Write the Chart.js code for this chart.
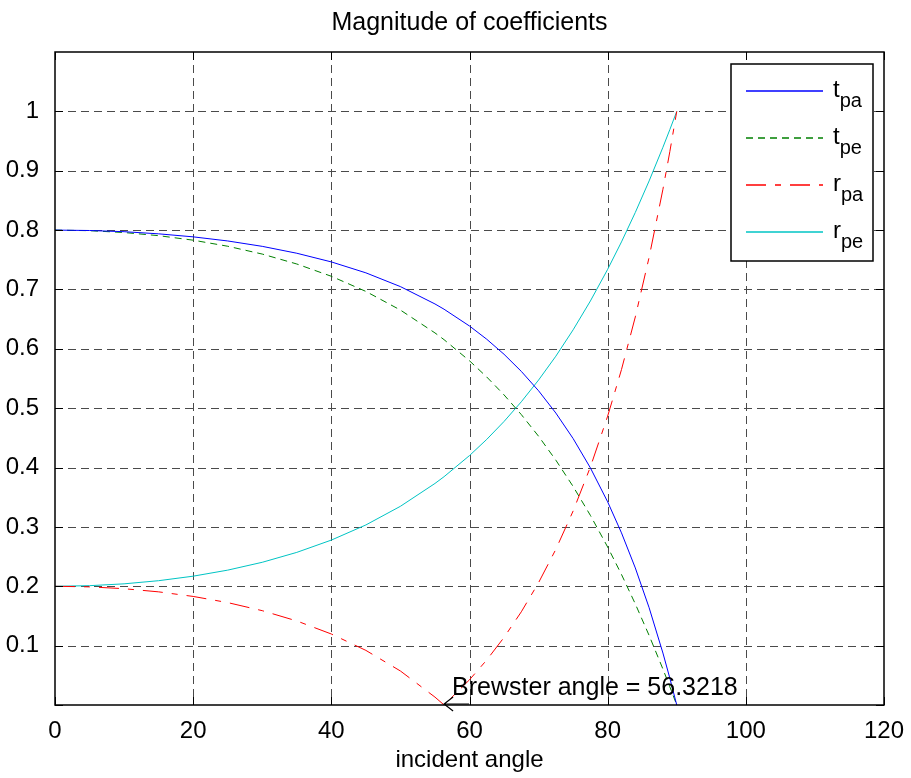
<!DOCTYPE html>
<html>
<head>
<meta charset="utf-8">
<title>Magnitude of coefficients</title>
<script src="https://cdn.jsdelivr.net/npm/chart.js@4/dist/chart.umd.min.js"></script>
<style>
  html, body { margin: 0; padding: 0; background: #fff; }
  canvas { display: block; }
</style>
</head>
<body>
<canvas id="coefChart" width="911" height="778"></canvas>
<script>
// incident angle (deg) and coefficient magnitudes
const angles = [0, 5, 10, 15, 20, 25, 30, 35, 40, 45, 50, 55, 56.32, 60, 62.5, 65, 67.5, 70, 72.5, 75, 77.5, 80, 82, 84, 86, 88, 89, 90];
const tPa = [0.8, 0.7993, 0.7973, 0.7937, 0.7886, 0.7817, 0.7726, 0.7610, 0.7464, 0.7280, 0.7048, 0.6756, 0.6667, 0.6384, 0.6161, 0.5908, 0.5620, 0.5293, 0.4918, 0.4488, 0.3994, 0.3422, 0.2900, 0.2309, 0.1639, 0.0875, 0.0452, 0];
const tPe = [0.8, 0.7990, 0.7959, 0.7906, 0.7830, 0.7728, 0.7596, 0.7429, 0.7222, 0.6967, 0.6653, 0.6268, 0.6154, 0.5798, 0.5525, 0.5224, 0.4892, 0.4527, 0.4124, 0.3681, 0.3194, 0.2661, 0.2199, 0.1703, 0.1172, 0.0605, 0.0307, 0];
const rPa = [0.2, 0.1990, 0.1959, 0.1906, 0.1829, 0.1725, 0.1589, 0.1416, 0.1196, 0.0920, 0.0573, 0.0133, 0, 0.0425, 0.0759, 0.1139, 0.1570, 0.2061, 0.2623, 0.3268, 0.4009, 0.4866, 0.5650, 0.6537, 0.7542, 0.8688, 0.9322, 1];
const rPe = [0.2, 0.2010, 0.2041, 0.2094, 0.2170, 0.2272, 0.2404, 0.2571, 0.2778, 0.3033, 0.3347, 0.3732, 0.3846, 0.4202, 0.4475, 0.4776, 0.5108, 0.5474, 0.5876, 0.6320, 0.6806, 0.7339, 0.7801, 0.8297, 0.8828, 0.9395, 0.9693, 1];

const legendNames = [['t', 'pa'], ['t', 'pe'], ['r', 'pa'], ['r', 'pe']];
const brewsterAngle = 56.3218;

const FONT = "'Liberation Sans', Arial, sans-serif";

function pts(vals) {
  return angles.map((a, i) => ({ x: a, y: vals[i] }));
}

const seriesStyle = [
  { color: '#0000ff', dash: [] },
  { color: '#008000', dash: [7, 5] },
  { color: '#ff0000', dash: [20, 9, 6, 9] },
  { color: '#00c4c4', dash: [] }
];

const datasets = [tPa, tPe, rPa, rPe].map((vals, i) => ({
  label: legendNames[i].join(''),
  data: pts(vals),
  borderColor: seriesStyle[i].color,
  borderDash: seriesStyle[i].dash,
  borderWidth: 1,
  pointRadius: 0,
  tension: 0,
  fill: false
}));

// grid, frame, inner ticks, legend and the Brewster note, MATLAB style
const matlabLook = {
  id: 'matlabLook',
  beforeDraw(chart) {
    const ctx = chart.ctx;
    ctx.save();
    ctx.fillStyle = '#fff';
    ctx.fillRect(0, 0, chart.width, chart.height);
    ctx.restore();
  },
  beforeDatasetsDraw(chart) {
    const { ctx, chartArea: { left, right, top, bottom }, scales: { x, y } } = chart;
    ctx.save();
    ctx.strokeStyle = '#4a4a4a';
    ctx.lineWidth = 1;
    ctx.setLineDash([8, 5]);
    x.ticks.forEach(t => {
      if (t.value <= x.min || t.value >= x.max) return;
      const px = Math.round(x.getPixelForValue(t.value)) + 0.5;
      ctx.beginPath(); ctx.moveTo(px, top); ctx.lineTo(px, bottom); ctx.stroke();
    });
    y.ticks.forEach(t => {
      if (t.value <= y.min + 1e-6 || t.value > 1.05) return;
      const py = Math.round(y.getPixelForValue(t.value)) + 0.5;
      ctx.beginPath(); ctx.moveTo(left, py); ctx.lineTo(right, py); ctx.stroke();
    });
    ctx.restore();
  },
  afterDatasetsDraw(chart) {
    const { ctx, chartArea: { left, right, top, bottom }, scales: { x, y } } = chart;
    ctx.save();

    // inner ticks
    ctx.strokeStyle = '#000';
    ctx.lineWidth = 1;
    ctx.setLineDash([]);
    const tl = 8;
    x.ticks.forEach(t => {
      const px = Math.round(x.getPixelForValue(t.value)) + 0.5;
      ctx.beginPath();
      ctx.moveTo(px, bottom); ctx.lineTo(px, bottom - tl);
      ctx.moveTo(px, top); ctx.lineTo(px, top + tl);
      ctx.stroke();
    });
    y.ticks.forEach(t => {
      if (t.value > 1.05) return;
      const py = Math.round(y.getPixelForValue(t.value)) + 0.5;
      ctx.beginPath();
      ctx.moveTo(left, py); ctx.lineTo(left + tl, py);
      ctx.moveTo(right, py); ctx.lineTo(right - tl, py);
      ctx.stroke();
    });

    // frame
    ctx.lineWidth = 1.5;
    ctx.strokeRect(left, top, right - left, bottom - top);

    // Brewster note: arrow tip at (brewsterAngle, 0)
    const bx = x.getPixelForValue(brewsterAngle);
    const by = y.getPixelForValue(0) - 1;
    ctx.lineWidth = 1.2;
    ctx.beginPath();
    ctx.moveTo(bx, by); ctx.lineTo(bx + 25, by);
    ctx.moveTo(bx + 9, by - 7); ctx.lineTo(bx, by); ctx.lineTo(bx + 9, by + 7);
    ctx.stroke();
    ctx.fillStyle = '#000';
    ctx.font = '25px ' + FONT;
    ctx.textAlign = 'left';
    ctx.textBaseline = 'alphabetic';
    ctx.fillText('Brewster angle = ' + brewsterAngle, bx + 8, by - 9);

    // legend box
    const lx = 731, ly = 64, lw = 142, lh = 197;
    ctx.fillStyle = '#fff';
    ctx.fillRect(lx, ly, lw, lh);
    ctx.lineWidth = 1.5;
    ctx.strokeStyle = '#000';
    ctx.strokeRect(lx, ly, lw, lh);
    seriesStyle.forEach((st, i) => {
      const yy = ly + 27 + i * 47;
      ctx.beginPath();
      ctx.strokeStyle = st.color;
      ctx.lineWidth = 1.3;
      ctx.setLineDash(st.dash);
      ctx.moveTo(lx + 15, yy);
      ctx.lineTo(lx + 92, yy);
      ctx.stroke();
      ctx.setLineDash([]);
      ctx.fillStyle = '#000';
      ctx.font = '24px ' + FONT;
      ctx.fillText(legendNames[i][0], lx + 102, yy + 6);
      const w = ctx.measureText(legendNames[i][0]).width;
      ctx.font = '20px ' + FONT;
      ctx.fillText(legendNames[i][1], lx + 102 + w, yy + 16);
    });

    ctx.restore();
  },
  afterDraw(chart) {
    const { ctx, chartArea: { left, right } } = chart;
    ctx.save();
    ctx.fillStyle = '#000';
    ctx.textAlign = 'center';
    ctx.textBaseline = 'alphabetic';
    ctx.font = '25px ' + FONT;
    ctx.fillText('Magnitude of coefficients', (left + right) / 2, 30);
    ctx.font = '24px ' + FONT;
    ctx.fillText('incident angle', (left + right) / 2, 767);
    ctx.restore();
  }
};

new Chart(document.getElementById('coefChart'), {
  type: 'line',
  data: { datasets },
  plugins: [matlabLook],
  options: {
    responsive: false,
    animation: false,
    devicePixelRatio: 1,
    layout: { padding: { top: 52, right: 27, left: 0, bottom: 0 } },
    plugins: {
      legend: { display: false },
      title: { display: false },
      tooltip: { enabled: false }
    },
    scales: {
      x: {
        type: 'linear',
        min: 0,
        max: 120,
        grid: { display: false },
        border: { display: false },
        ticks: {
          stepSize: 20,
          color: '#000',
          padding: 4,
          font: { family: FONT, size: 24 }
        },
        afterFit(scale) { scale.height = 73; }
      },
      y: {
        type: 'linear',
        min: 0,
        max: 1.1,
        grid: { display: false },
        border: { display: false },
        ticks: {
          stepSize: 0.1,
          color: '#000',
          padding: 8,
          font: { family: FONT, size: 24 },
          callback: v => (v < 0.05 || v > 1.05) ? '' : String(Math.round(v * 10) / 10)
        },
        afterFit(scale) { scale.width = 55; }
      }
    }
  }
});
</script>
</body>
</html>
